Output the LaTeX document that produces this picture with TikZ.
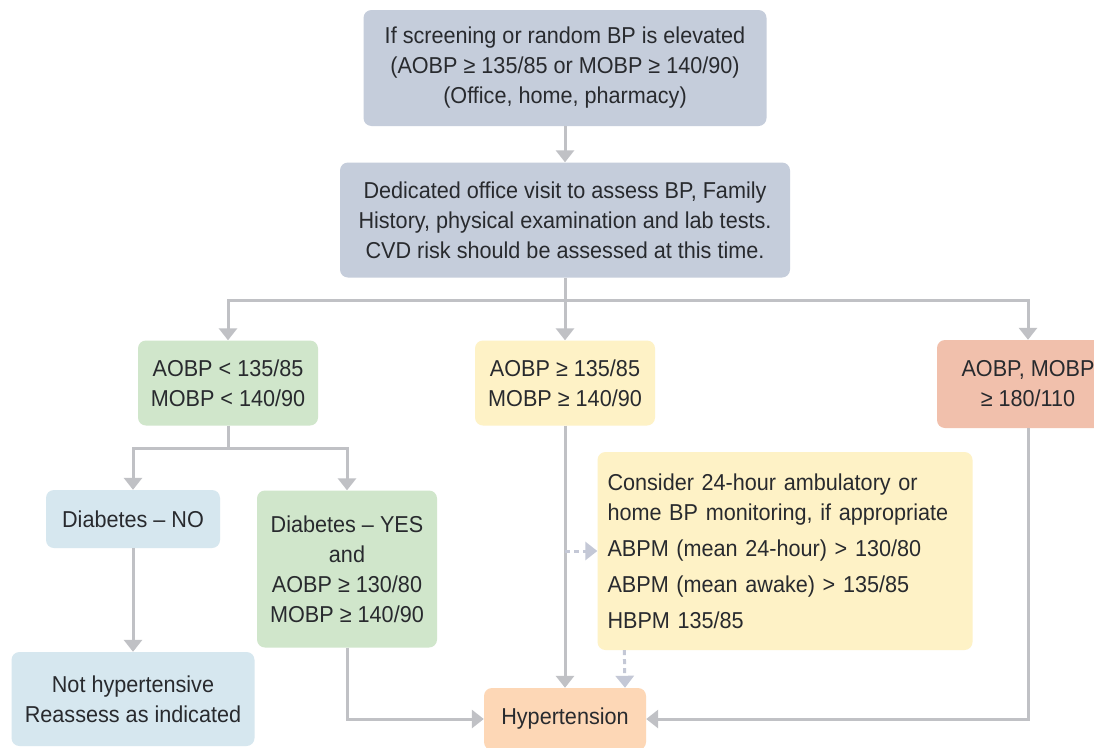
\documentclass[tikz,border=0pt]{standalone}
\usepackage{fontspec}
\setmainfont[FakeStretch=0.94]{Liberation Sans}
\usepackage{xcolor}
\usepackage{tikz}
\usetikzlibrary{positioning}
\usetikzlibrary{arrows.meta}

\definecolor{slate}{RGB}{197,205,219}
\definecolor{mint}{RGB}{208,230,203}
\definecolor{butter}{RGB}{254,242,198}
\definecolor{salmon}{RGB}{241,192,172}
\definecolor{sky}{RGB}{214,231,239}
\definecolor{peach}{RGB}{253,215,182}
\definecolor{linkgray}{RGB}{192,193,197}
\definecolor{hintgray}{RGB}{196,200,214}
\definecolor{inkgray}{RGB}{40,42,46}

\begin{document}
\begin{tikzpicture}[x=1pt, y=-1pt, >={Triangle[width=18pt,length=12pt]},
  box/.style={rounded corners=8pt, align=center, text=inkgray, inner sep=0pt, font=\fontsize{23}{30}\selectfont},
  link/.style={line width=3pt, draw=linkgray},
  hint/.style={line width=3pt, draw=hintgray, dash pattern=on 5pt off 4pt}]

\clip (0,0) rectangle (1094,747);
\fill [white] (0,0) rectangle (1094,747);

\node (screen) [box, fill=slate, minimum width=403pt, minimum height=116pt] at (565,68) {If screening or random BP is elevated\\(AOBP ≥ 135/85 or MOBP ≥ 140/90)\\(Office, home, pharmacy)};

\node (visit) [box, fill=slate, minimum width=450pt, minimum height=115pt] at (565,220) {Dedicated office visit to assess BP, Family\\History, physical examination and lab tests.\\CVD risk should be assessed at this time.};

\node (low) [box, fill=mint, minimum width=180pt, minimum height=85pt] at (228,383) {AOBP < 135/85\\MOBP < 140/90};

\node (high) [box, fill=butter, minimum width=180pt, minimum height=85pt] at (565,383) {AOBP ≥ 135/85\\MOBP ≥ 140/90};

\node (severe) [box, fill=salmon, minimum width=182pt, minimum height=88pt] at (1028,384) {AOBP, MOBP\\≥ 180/110};

\node (dmno) [box, fill=sky, minimum width=174pt, minimum height=58pt] at (133,519) {Diabetes – NO};

\node (dmyes) [box, fill=mint, minimum width=180pt, minimum height=157pt] at (347,569) {Diabetes – YES\\and\\AOBP ≥ 130/80\\MOBP ≥ 140/90};

\node (nohtn) [box, fill=sky, minimum width=243pt, minimum height=94pt] at (133,699) {Not hypertensive\\Reassess as indicated};

\node (amb) [box, fill=butter, align=left, text width=355pt, minimum width=375pt, minimum height=198pt] at (785,551) {Consider 24-hour ambulatory or\\home BP monitoring, if appropriate\\[6pt]ABPM (mean 24-hour) > 130/80\\[6pt]ABPM (mean awake) > 135/85\\[6pt]HBPM 135/85};

\node (htn) [box, fill=peach, minimum width=162pt, minimum height=62pt] at (565,719) {Hypertension};

\coordinate (split) at (565,300);
\coordinate (lowsplit) at (228,448);

\draw [link, ->] (screen.south) -- (visit.north);
\draw [link, ->] (visit.south) -- (high.north);
\draw [link, ->] (split) -| (low.north);
\draw [link, ->] (split) -| (severe.north);
\draw [link] (low.south) -- (lowsplit);
\draw [link, ->] (lowsplit) -| (dmno.north);
\draw [link, ->] (lowsplit) -| (dmyes.north);
\draw [link, ->] (dmno.south) -- (nohtn.north);
\draw [link, ->] (dmyes.south) |- (htn.west);
\draw [link, ->] (high.south) -- (htn.north);
\draw [link, ->] (severe.south) |- (htn.east);
\draw [hint, ->] (high.south |- amb.west) -- (amb.west);
\draw [hint, ->] ([xshift=27]amb.south west) -- ([xshift=60]htn.north);

\end{tikzpicture}
\end{document}
